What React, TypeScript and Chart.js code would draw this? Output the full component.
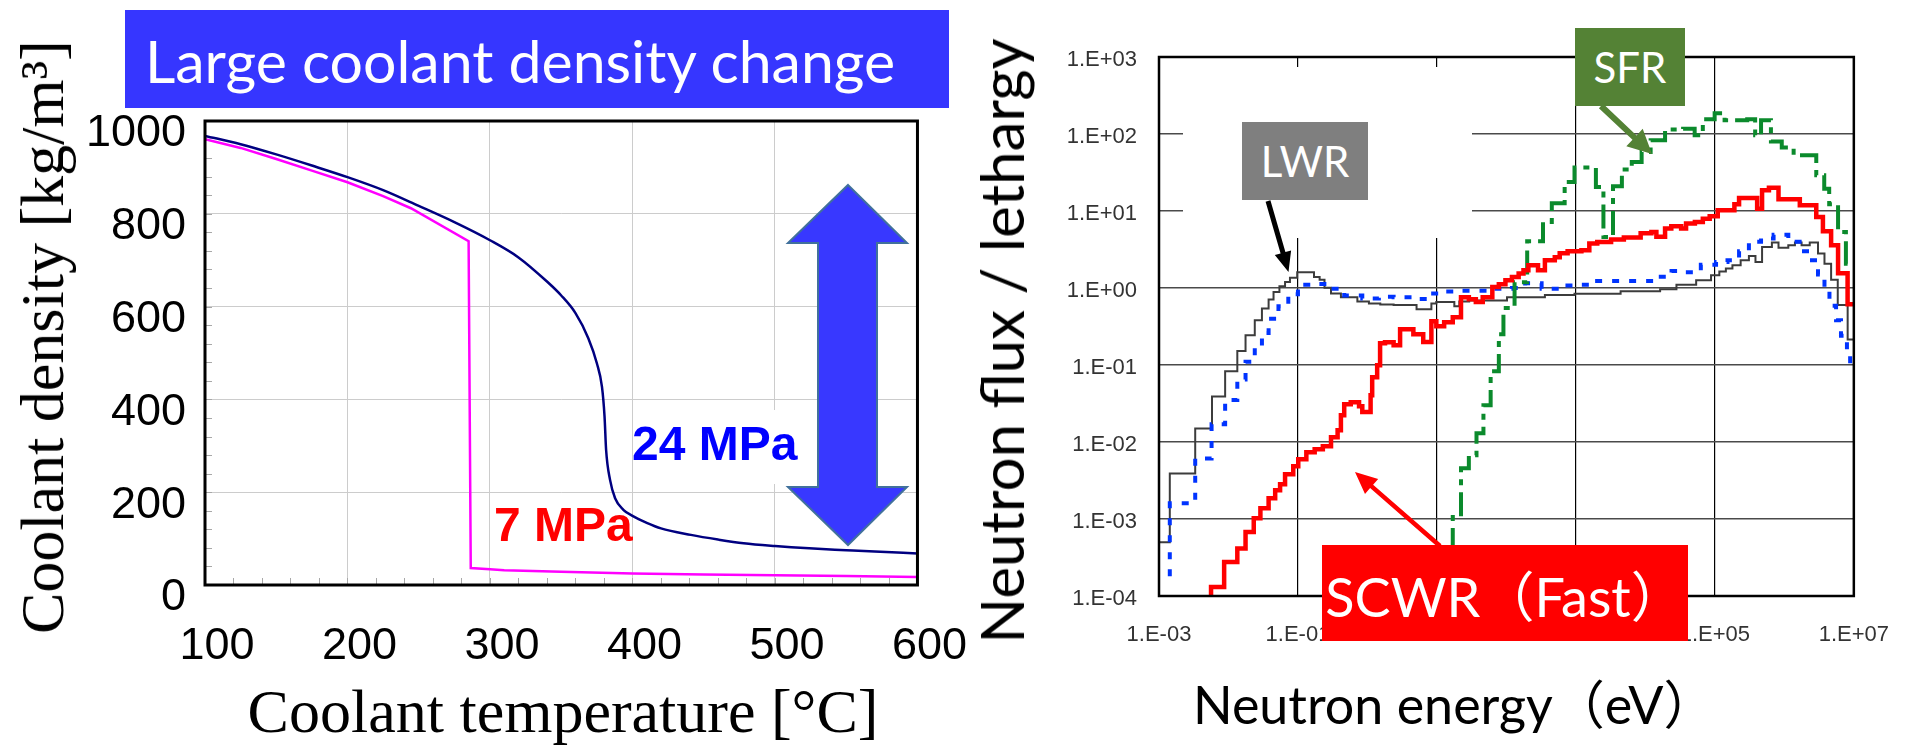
import React, { useEffect, useRef } from 'react';
import { Chart, registerables } from 'chart.js';

Chart.register(...registerables);

// ---------------- Left chart: coolant density vs temperature ----------------
const tempTicks = [100, 200, 300, 400, 500, 600];
const densityTicks = [0, 200, 400, 600, 800, 1000];
const tempMinorStep = 20;
const densityMinorStep = 40;

const temp24MPa = [100, 125, 150, 175, 200, 225, 250, 275, 300, 320, 340, 350, 360, 369, 375, 378.6, 380.4, 381.5, 384.3, 387.8, 393.6, 400, 410, 420, 441, 460, 478, 500, 524, 550, 570, 600];
const density24MPa = [968, 950, 928, 904, 879, 851, 817, 782, 743, 706, 654, 624, 586, 532, 478, 427, 363, 291, 226, 187, 162, 149, 134, 122, 108, 98, 90, 84, 79, 75, 72, 68];

const temp7MPa = [100, 125, 150, 175, 200, 225, 244.5, 285, 286.5, 300, 310, 350, 400, 450, 500, 550, 600];
const density7MPa = [961, 942, 918, 893, 868, 838, 812, 741, 36.5, 34, 32, 28.4, 25.0, 22.7, 20.8, 19.3, 17.5];

// ---------------- Right chart: neutron spectra ----------------
const energyTickValues = [1e-3, 1e-1, 1e1, 1e3, 1e5, 1e7];
const energyTickLabels = ['1.E-03', '1.E-01', '1.E+01', '1.E+03', '1.E+05', '1.E+07'];
const fluxTickValues = [1e-4, 1e-3, 1e-2, 1e-1, 1, 10, 100, 1000];
const fluxTickLabels = ['1.E-04', '1.E-03', '1.E-02', '1.E-01', '1.E+00', '1.E+01', '1.E+02', '1.E+03'];

// LWR (thin dark step line)
const lwrEnergy = [1.0e-3, 1.43e-3, 3.32e-3, 5.79e-3, 8.95e-3, 1.34e-2, 1.76e-2, 2.39e-2, 3.03e-2, 3.78e-2, 4.45e-2, 5.41e-2, 6.52e-2, 7.67e-2, 9.75e-2, 0.17, 0.205, 0.241, 0.299, 0.415, 0.716, 1.05, 1.53, 2.38, 5.09, 8.32, 9.79, 17.8, 21.0, 29.1, 102, 358, 955, 4400, 16300, 28000, 53800, 88100, 1.16e5, 1.44e5, 1.79e5, 2.35e5, 3.09e5, 3.84e5, 4.78e5, 6.62e5, 8.24e5, 1.14e6, 1.42e6, 1.77e6, 2.32e6, 3.05e6, 3.78e6, 4.71e6, 5.87e6, 8.15e6, 1.0e7];
const lwrFlux = [5.0e-4, 3.9e-3, 1.5e-2, 3.9e-2, 8.3e-2, 0.152, 0.243, 0.38, 0.54, 0.71, 0.89, 1.05, 1.2, 1.36, 1.6, 1.39, 1.28, 1.01, 0.85, 0.76, 0.67, 0.63, 0.61, 0.60, 0.53, 0.63, 0.66, 0.58, 0.67, 0.69, 0.76, 0.81, 0.845, 0.91, 0.96, 1.1, 1.26, 1.46, 1.64, 1.79, 1.97, 2.29, 2.61, 2.18, 3.40, 3.89, 3.33, 3.59, 3.89, 3.59, 3.89, 2.80, 2.07, 1.28, 0.6, 0.214, 0.214];

// Blue dotted step line
const blueEnergy = [1.43e-3, 1.43e-3, 3.32e-3, 5.71e-3, 8.95e-3, 1.34e-2, 1.76e-2, 2.39e-2, 3.03e-2, 3.78e-2, 5.24e-2, 7.26e-2, 0.1, 0.173, 0.269, 0.463, 0.843, 1.46, 2.38, 4.98, 7.87, 12.9, 22.2, 56.1, 120, 186, 321, 585, 955, 1740, 13100, 23800, 36900, 62800, 1.04e5, 1.52e5, 2.23e5, 3.09e5, 4.62e5, 7.0e5, 1.14e6, 1.66e6, 2.32e6, 3.05e6, 3.78e6, 4.46e6, 5.55e6, 6.53e6, 7.96e6, 8.85e6, 1.0e7];
const blueFlux = [1.8e-4, 1.6e-3, 6.1e-3, 1.7e-2, 3.5e-2, 6.5e-2, 0.11, 0.17, 0.26, 0.40, 0.58, 0.83, 1.1, 1.13, 0.98, 0.80, 0.73, 0.77, 0.76, 0.72, 0.85, 0.90, 0.92, 0.98, 1.0, 1.15, 0.98, 1.08, 1.10, 1.23, 1.40, 1.66, 1.6, 2.0, 2.18, 2.29, 3.0, 4.0, 4.4, 4.9, 4.0, 3.0, 2.29, 1.5, 0.95, 0.59, 0.38, 0.24, 0.15, 0.09, 0.09];

// SCWR (Fast) thick red step line
const scwrEnergy = [5.61e-3, 5.61e-3, 8.66e-3, 1.34e-2, 1.76e-2, 2.31e-2, 2.88e-2, 3.78e-2, 4.70e-2, 5.53e-2, 6.52e-2, 8.55e-2, 0.101, 0.132, 0.174, 0.228, 0.299, 0.372, 0.415, 0.463, 0.575, 0.757, 0.843, 1.11, 1.17, 1.38, 1.52, 1.79, 2.38, 2.95, 4.58, 6.35, 8.32, 9.8, 12.7, 16.9, 22.2, 28.8, 36.3, 45.6, 62.7, 77.8, 96.8, 120, 150, 176, 207, 285, 358, 497, 585, 760, 1200, 1560, 2030, 3210, 4900, 8550, 12200, 14400, 19200, 23600, 32700, 38500, 51600, 67100, 84300, 1.10e5, 1.91e5, 2.23e5, 4.06e5, 4.78e5, 6.0e5, 8.24e5, 1.67e6, 2.88e6, 3.59e6, 4.71e6, 5.93e6, 8.13e6, 1.0e7];
const scwrFlux = [1.0e-4, 1.31e-4, 2.77e-4, 4.13e-4, 6.78e-4, 1.02e-3, 1.38e-3, 1.86e-3, 2.36e-3, 2.83e-3, 3.81e-3, 4.83e-3, 5.96e-3, 7.34e-3, 8.03e-3, 8.79e-3, 1.15e-2, 1.42e-2, 2.22e-2, 3.09e-2, 3.28e-2, 2.91e-2, 2.46e-2, 4.04e-2, 6.92e-2, 9.9e-2, 0.191, 0.197, 0.180, 0.291, 0.251, 0.199, 0.370, 0.318, 0.359, 0.416, 0.757, 0.713, 0.658, 0.757, 1.03, 1.12, 1.26, 1.39, 1.54, 1.70, 1.97, 1.70, 2.29, 2.51, 2.82, 3.0, 3.09, 3.77, 3.95, 4.25, 4.52, 5.13, 5.33, 4.62, 5.91, 6.33, 5.91, 6.86, 7.19, 7.96, 8.53, 10.2, 12.2, 14.8, 10.7, 18.6, 20.0, 14.2, 11.9, 8.36, 5.45, 3.59, 1.55, 0.614, 0.614];

// SFR dash-dot green step line
const sfrEnergy = [16.9, 16.9, 22.2, 28.8, 37.1, 46.7, 59.3, 77.8, 90.6, 131, 199, 336, 450, 689, 955, 1940, 2490, 3420, 4590, 6370, 8830, 11900, 19200, 34900, 51200, 67100, 99300, 1.38e5, 2.92e5, 3.80e5, 4.62e5, 6.41e5, 9.18e5, 1.36e6, 2.88e6, 3.75e6, 4.42e6, 5.93e6, 7.69e6, 1.0e7];
const sfrFlux = [1.0e-4, 1.06e-3, 4.55e-3, 6.71e-3, 1.3e-2, 3.0e-2, 8.28e-2, 0.25, 0.55, 1.19, 4.04, 7.2, 12.6, 23.8, 36.6, 20.5, 4.6, 21, 34.5, 43.3, 58.4, 82.8, 114, 117, 96, 155, 186, 151, 155, 96, 151, 80, 67, 52.9, 29.1, 19.5, 12.2, 5.33, 2.07, 2.07];

const FONT_SANS = "'Liberation Sans', Arial, sans-serif";
const FONT_SERIF = "'Liberation Serif', 'Times New Roman', serif";
const FONT_LATO = "Lato, 'Noto Sans CJK JP', sans-serif";

const pts = (xs: number[], ys: number[]) => xs.map((x, i) => ({ x, y: ys[i] }));

const framePlugin = {
  id: 'frame',
  afterDraw(chart: any, _args: any, opts: any) {
    const { ctx, chartArea } = chart;
    const { left, top, right, bottom } = chartArea;
    ctx.save();
    ctx.strokeStyle = opts.color || '#000';
    ctx.lineWidth = opts.width || 2;
    ctx.strokeRect(left, top, right - left, bottom - top);
    ctx.restore();
  },
};

const minorTicksPlugin = {
  id: 'minorTicks',
  beforeDatasetsDraw(chart: any) {
    const { ctx, chartArea, scales } = chart;
    const x = scales.x;
    const y = scales.y;
    ctx.save();
    ctx.strokeStyle = '#a8a8a8';
    ctx.lineWidth = 1;
    for (let v = x.min + tempMinorStep; v < x.max; v += tempMinorStep) {
      const px = Math.round(x.getPixelForValue(v)) + 0.5;
      ctx.beginPath();
      ctx.moveTo(px, chartArea.bottom);
      ctx.lineTo(px, chartArea.bottom - 7);
      ctx.stroke();
    }
    for (let v = y.min + densityMinorStep; v < y.max; v += densityMinorStep) {
      const py = Math.round(y.getPixelForValue(v)) + 0.5;
      ctx.beginPath();
      ctx.moveTo(chartArea.left, py);
      ctx.lineTo(chartArea.left + 7, py);
      ctx.stroke();
    }
    ctx.restore();
  },
};

function leftConfig(): any {
  return {
    type: 'line',
    data: {
      datasets: [
        {
          label: '24 MPa',
          data: pts(temp24MPa, density24MPa),
          borderColor: '#000080',
          borderWidth: 2.5,
          pointRadius: 0,
          cubicInterpolationMode: 'monotone',
          fill: false,
        },
        {
          label: '7 MPa',
          data: pts(temp7MPa, density7MPa),
          borderColor: '#ff00ff',
          borderWidth: 2.5,
          pointRadius: 0,
          tension: 0,
          fill: false,
        },
      ],
    },
    options: {
      responsive: false,
      animation: false,
      events: [],
      layout: { padding: { left: 0, top: 121, right: 63, bottom: 0 } },
      plugins: { legend: { display: false }, tooltip: { enabled: false }, frame: { color: '#000', width: 3 } },
      scales: {
        x: {
          type: 'linear',
          min: 100,
          max: 600,
          afterBuildTicks: (s: any) => { s.ticks = tempTicks.map((v) => ({ value: v })); },
          afterFit: (s: any) => { s.height = 160; },
          grid: { color: '#cccccc', lineWidth: 1, drawTicks: false },
          border: { display: false },
          ticks: {
            color: '#000',
            font: { family: FONT_SANS, size: 45 },
            padding: 35,
            labelOffset: 12,
            autoSkip: false,
            maxRotation: 0,
            minRotation: 0,
            callback: (_v: any, i: number) => String(tempTicks[i]),
          },
        },
        y: {
          type: 'linear',
          min: 0,
          max: 1000,
          afterBuildTicks: (s: any) => { s.ticks = densityTicks.map((v) => ({ value: v })); },
          afterFit: (s: any) => { s.width = 205; },
          grid: { color: '#cccccc', lineWidth: 1, drawTicks: false },
          border: { display: false },
          ticks: {
            color: '#000',
            font: { family: FONT_SANS, size: 45 },
            padding: 19,
            labelOffset: 13,
            autoSkip: false,
            callback: (_v: any, i: number) => String(densityTicks[i]),
          },
        },
      },
    },
    plugins: [minorTicksPlugin, framePlugin],
  };
}

function rightConfig(): any {
  return {
    type: 'line',
    data: {
      datasets: [
        {
          label: 'SCWR (Fast)',
          data: pts(scwrEnergy, scwrFlux),
          borderColor: '#ff0000',
          borderWidth: 4.5,
          stepped: 'before',
          pointRadius: 0,
          fill: false,
        },
        {
          label: 'SFR',
          data: pts(sfrEnergy, sfrFlux),
          borderColor: '#0b8a2c',
          borderWidth: 4,
          borderDash: [24, 7, 6, 7],
          stepped: 'before',
          pointRadius: 0,
          fill: false,
        },
        {
          label: 'SCWR (Thermal)',
          data: pts(blueEnergy, blueFlux),
          borderColor: '#0033ff',
          borderWidth: 4,
          borderDash: [7, 10],
          stepped: 'before',
          pointRadius: 0,
          fill: false,
        },
        {
          label: 'LWR',
          data: pts(lwrEnergy, lwrFlux),
          borderColor: '#3c3c3c',
          borderWidth: 2,
          stepped: 'before',
          pointRadius: 0,
          fill: false,
        },
      ],
    },
    options: {
      responsive: false,
      animation: false,
      events: [],
      layout: { padding: { left: 0, top: 57, right: 52, bottom: 0 } },
      plugins: { legend: { display: false }, tooltip: { enabled: false }, frame: { color: '#000', width: 2.5 } },
      scales: {
        x: {
          type: 'logarithmic',
          min: 1e-3,
          max: 1e7,
          afterBuildTicks: (s: any) => { s.ticks = energyTickValues.map((v) => ({ value: v })); },
          afterFit: (s: any) => { s.height = 149; },
          grid: { color: '#000', lineWidth: 1.2, drawTicks: false },
          border: { display: false },
          ticks: {
            color: '#333',
            font: { family: FONT_SANS, size: 22 },
            padding: 26,
            autoSkip: false,
            maxRotation: 0,
            minRotation: 0,
            callback: (_v: any, i: number) => energyTickLabels[i],
          },
        },
        y: {
          type: 'logarithmic',
          min: 1e-4,
          max: 1e3,
          afterBuildTicks: (s: any) => { s.ticks = fluxTickValues.map((v) => ({ value: v })); },
          afterFit: (s: any) => { s.width = 199; },
          grid: { color: '#4a4a4a', lineWidth: 1.6, drawTicks: false },
          border: { display: false },
          ticks: {
            color: '#333',
            font: { family: FONT_SANS, size: 22 },
            padding: 22,
            labelOffset: 3,
            autoSkip: false,
            callback: (_v: any, i: number) => fluxTickLabels[i],
          },
        },
      },
    },
    plugins: [framePlugin],
  };
}

function arrowPolygon(x1: number, y1: number, x2: number, y2: number, shaft: number, headLen: number, headWidth: number) {
  const dx = x2 - x1;
  const dy = y2 - y1;
  const len = Math.hypot(dx, dy);
  const ux = dx / len;
  const uy = dy / len;
  const nx = -uy;
  const ny = ux;
  const bx = x2 - ux * headLen;
  const by = y2 - uy * headLen;
  const s = shaft / 2;
  const h = headWidth / 2;
  const p = [
    [x1 + nx * s, y1 + ny * s],
    [bx + nx * s, by + ny * s],
    [bx + nx * h, by + ny * h],
    [x2, y2],
    [bx - nx * h, by - ny * h],
    [bx - nx * s, by - ny * s],
    [x1 - nx * s, y1 - ny * s],
  ];
  return p.map((q) => `${q[0].toFixed(1)},${q[1].toFixed(1)}`).join(' ');
}

const abs = (o: React.CSSProperties): React.CSSProperties => ({ position: 'absolute', whiteSpace: 'nowrap', ...o });

export default function App() {
  const leftRef = useRef<HTMLCanvasElement>(null);
  const rightRef = useRef<HTMLCanvasElement>(null);

  useEffect(() => {
    const l = new Chart(leftRef.current as HTMLCanvasElement, leftConfig());
    const r = new Chart(rightRef.current as HTMLCanvasElement, rightConfig());
    return () => {
      l.destroy();
      r.destroy();
    };
  }, []);

  return (
    <div style={{ position: 'absolute', left: 0, top: 0, width: 1915, height: 745, overflow: 'hidden', background: '#fff' }}>
      <canvas ref={leftRef} width={990} height={745} style={{ position: 'absolute', left: 0, top: 0, width: 990, height: 745 }} />
      <canvas ref={rightRef} width={955} height={745} style={{ position: 'absolute', left: 960, top: 0, width: 955, height: 745 }} />

      {/* white area hiding part of the grid behind the LWR callout */}
      <div style={abs({ left: 1183, top: 67, width: 289, height: 171, background: '#fff' })} />

      {/* Left chart texts */}
      <div
        style={abs({
          left: 125, top: 10, width: 824, height: 98, background: '#3636ff', color: '#fff',
          display: 'flex', alignItems: 'center', paddingLeft: 20, paddingTop: 3, boxSizing: 'border-box',
          fontFamily: FONT_LATO, fontSize: 59,
        })}
      >
        Large coolant density change
      </div>
      <div style={abs({ left: 636, top: 410, width: 164, height: 74, background: '#fff' })} />
      <div style={abs({ left: 632, top: 420, fontFamily: FONT_SANS, fontWeight: 'bold', fontSize: 48, lineHeight: '48px', color: '#0000ff' })}>24 MPa</div>
      <div style={abs({ left: 494, top: 501, fontFamily: FONT_SANS, fontWeight: 'bold', fontSize: 48, lineHeight: '48px', color: '#ff0000' })}>7 MPa</div>
      <div style={abs({ left: 563, top: 680, transform: 'translateX(-50%)', fontFamily: FONT_SERIF, fontSize: 62, lineHeight: '62px', color: '#000' })}>
        Coolant temperature [°C]
      </div>
      <div style={abs({ left: 42, top: 337, transform: 'translate(-50%, -50%) rotate(-90deg)', fontFamily: FONT_SERIF, fontSize: 62, lineHeight: '70px', color: '#000' })}>
        Coolant density [kg/m³]
      </div>

      {/* Right chart texts */}
      <div style={abs({ left: 1001, top: 341, transform: 'translate(-50%, -50%) rotate(-90deg)', fontFamily: FONT_LATO, fontSize: 60, lineHeight: '70px', color: '#000' })}>
        Neutron flux / lethargy
      </div>
      <div style={abs({ left: 1193, top: 678, fontFamily: FONT_LATO, fontSize: 52, lineHeight: '52px', color: '#000' })}>
        Neutron energy（eV）
      </div>

      <svg width={1915} height={745} style={{ position: 'absolute', left: 0, top: 0, pointerEvents: 'none' }}>
        <polygon
          points="848,185 907,243 877,243 877,487 907,487 848,545 788,487 818,487 818,243 788,243"
          fill="#3838ff"
          stroke="#41719c"
          strokeWidth={2}
        />
        <polygon points={arrowPolygon(1268, 201, 1288.5, 272, 5, 20, 17)} fill="#000" />
        <polygon points={arrowPolygon(1601, 106, 1652, 154, 6, 24, 24)} fill="#548235" />
        <polygon points={arrowPolygon(1440, 546, 1355, 472, 4.5, 22, 20)} fill="#ff0000" />
      </svg>

      <div style={abs({ left: 1242, top: 122, width: 126, height: 78, background: '#7f7f7f', color: '#fff', display: 'flex', alignItems: 'center', justifyContent: 'center', fontFamily: FONT_LATO, fontSize: 42 })}>
        LWR
      </div>
      <div style={abs({ left: 1575, top: 28, width: 110, height: 78, background: '#548235', color: '#fff', display: 'flex', alignItems: 'center', justifyContent: 'center', fontFamily: FONT_LATO, fontSize: 42 })}>
        SFR
      </div>
      <div style={abs({ left: 1322, top: 545, width: 366, height: 96, background: '#ff0000', color: '#fff', display: 'flex', alignItems: 'center', justifyContent: 'center', fontFamily: FONT_LATO, fontSize: 54 })}>
        SCWR（Fast）
      </div>
    </div>
  );
}
